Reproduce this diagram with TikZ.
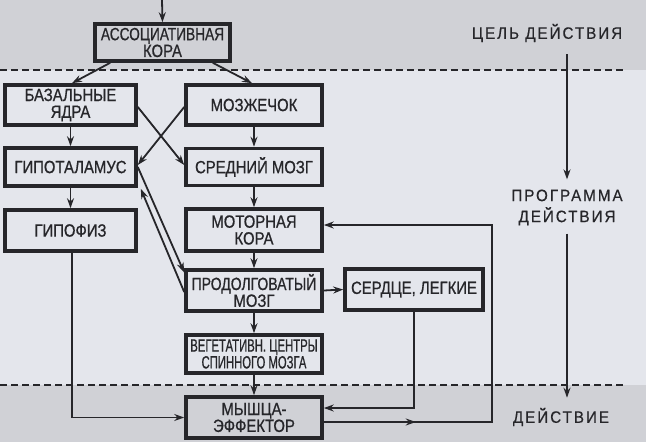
\documentclass[tikz,border=0pt]{standalone}
\usepackage{fontspec}
\setmainfont{Liberation Sans}[FakeStretch=0.84,FakeBold=0.8]
\newfontfamily\labfont{Liberation Sans}[FakeStretch=0.92,LetterSpace=12,FakeBold=0.5]
\usetikzlibrary{arrows.meta,calc}
\definecolor{bgmid}{HTML}{E4E6EC}
\definecolor{bgband}{HTML}{D0D1D6}
\definecolor{ink}{HTML}{26262A}
\tikzset{
  box/.style={draw=ink,line width=3.6pt,minimum width=136pt,minimum height=42pt,inner sep=0pt,
    align=center,font=\fontsize{17.7}{16.8}\selectfont,text=ink},
  arr/.style={draw=ink,line width=1.8pt,-{Stealth[length=10pt,width=7pt]}},
  dline/.style={draw=ink,line width=1.5pt,dash pattern=on 7pt off 4pt},
  lab/.style={font=\labfont\fontsize{16.5}{21}\selectfont,text=ink,align=center,inner sep=2pt}
}
\begin{document}
\begin{tikzpicture}[x=1pt,y=-1pt]
\useasboundingbox (0,0) rectangle (646,442);
\fill[bgband] (0,0) rectangle (646,70);
\fill[bgmid] (0,70) rectangle (646,385);
\fill[bgband] (0,385) rectangle (646,442);
\draw[dline] (0,70) -- (624,70);
\draw[dline] (0,385) -- (624,385);

\node[box,minimum height=37pt,minimum width=135pt] (ak) at (162.5,42.5) {\scalebox{0.92}[1]{АССОЦИАТИВНАЯ}\\КОРА};
\node[box,minimum height=40pt,minimum width=131pt] (by) at (70.5,105) {БАЗАЛЬНЫЕ\\ЯДРА};
\node[box,minimum height=40pt] (mz) at (254,105) {МОЗЖЕЧОК};
\node[box,minimum height=38pt,minimum width=131pt] (gt) at (70.5,167) {ГИПОТАЛАМУС};
\node[box,minimum height=37pt] (sm) at (254,167) {СРЕДНИЙ МОЗГ};
\node[box,minimum height=41pt,minimum width=131pt] (gf) at (70.5,230.5) {ГИПОФИЗ};
\node[box,minimum height=42pt] (mk) at (254,230) {МОТОРНАЯ\\КОРА};
\node[box,minimum height=41pt] (pm) at (254,290.5) {\scalebox{0.94}[1]{ПРОДОЛГОВАТЫЙ}\\МОЗГ};
\node[box,minimum height=38pt] (vc) at (254,354) {\scalebox{0.76}[1]{ВЕГЕТАТИВН. ЦЕНТРЫ}\\\scalebox{0.76}[1]{СПИННОГО МОЗГА}};
\node[box,minimum height=41pt] (me) at (254,417.5) {МЫШЦА-\\ЭФФЕКТОР};
\node[box,minimum height=41pt,minimum width=138pt] (sl) at (414,289.5) {СЕРДЦЕ, ЛЕГКИЕ};

\node[lab] (ts) at (547,33) {ЦЕЛЬ ДЕЙСТВИЯ};
\node[lab] (pr) at (567,207.5) {ПРОГРАММА\\ДЕЙСТВИЯ};
\node[lab] (dv) at (561,417) {ДЕЙСТВИЕ};

\coordinate (topin) at (162,0);
\draw[arr] (topin) -- (ak.north);
\draw[arr] ($(ak.south west)+(17,0)$) -- ($(by.north)+(1.5,0)$);
\draw[arr] ($(ak.south east)+(-19,0)$) -- ($(mz.north)+(-2,0)$);
\draw[arr] (by.south) -- (gt.north);
\draw[arr] (mz.south) -- (sm.north);
\draw[arr] ($(by.east)+(0,2)$) -- ($(sm.west)+(0,-2)$);
\draw[arr] ($(mz.west)+(0,2)$) -- ($(gt.east)+(0,-2)$);
\draw[arr] (gt.south) -- (gf.north);
\draw[arr] (sm.south) -- (mk.north);
\draw[arr] (mk.south) -- (pm.north);
\draw[arr] (pm.south) -- (vc.north);
\draw[arr] (vc.south) -- (me.north);
\draw[arr] (gt.east) -- ($(pm.west)+(0,-18)$);
\draw[arr] ($(pm.west)+(0,1.5)$) -- ($(gt.south east)+(3,1)$);
\draw[arr] (pm.east) -- (sl.west);
\draw[arr] (sl.south) |- ($(me.east)+(0,-9.5)$);
\draw[arr] ($(me.east)+(0,4.5)$) -- ++(168,0) |- ($(mk.east)+(0,-5)$);
\draw[arr] ($(me.east)+(0,4.5)$) -- ++(92,0);
\draw[arr] ($(gf.south)+(1.5,0)$) |- (me.west);

\draw[arr,shorten <=10pt,shorten >=8pt] (ts.south -| pr.north) -- (pr.north);
\draw[arr,shorten <=6pt,shorten >=8pt] (pr.south) -- (pr.south |- dv.north);
\end{tikzpicture}
\end{document}
